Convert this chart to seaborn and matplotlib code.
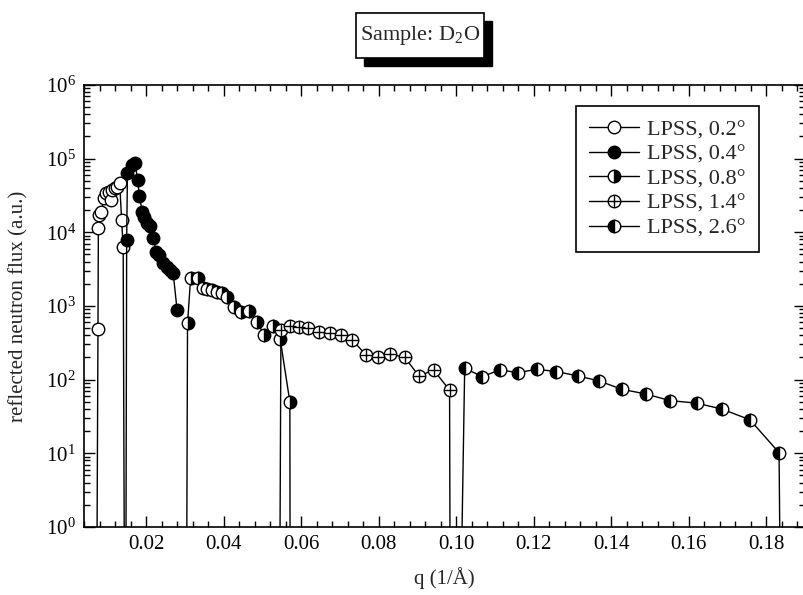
import numpy as np
import seaborn as sns
import matplotlib.pyplot as plt
from matplotlib.patches import Rectangle
from matplotlib.legend_handler import HandlerTuple
from matplotlib.ticker import MultipleLocator, FormatStrFormatter, LogLocator, NullFormatter

# q (1/A) and reflected flux for each incidence angle.
# the 0.01 entries are the drop-outs (zero counts) that pull the line to the bottom
q_02 = [0.0072, 0.0076, 0.0077, 0.0079, 0.0085, 0.0091, 0.0096, 0.0104, 0.0109,
        0.0113, 0.0120, 0.0126, 0.0132, 0.0137, 0.0141, 0.0145]
flux_02 = [0.01, 480, 11300, 17200, 19100, 29000, 34000, 35700, 27500,
           37500, 39600, 41700, 46000, 14700, 6300, 0.01]

q_04 = [0.01475, 0.0150, 0.0152, 0.0164, 0.0172, 0.0178, 0.0183, 0.0190, 0.0196,
        0.0203, 0.0210, 0.0219, 0.0226, 0.0234, 0.0245, 0.0254, 0.0262, 0.0270, 0.0280]
flux_04 = [0.01, 7900, 63000, 81000, 87000, 52000, 31000, 19000, 16300,
           13500, 12000, 8300, 5400, 4900, 3800, 3400, 3100, 2800, 890]

q_08 = [0.0304, 0.0307, 0.0315, 0.0333, 0.0346, 0.0358, 0.0371, 0.0384, 0.0396,
        0.0410, 0.0427, 0.0445, 0.0465, 0.0485, 0.0505, 0.0527, 0.0546, 0.0571, 0.0572]
flux_08 = [0.01, 580, 2380, 2380, 1740, 1690, 1660, 1560, 1480,
           1340, 980, 840, 860, 610, 410, 540, 357, 50, 0.01]

q_14 = [0.0544, 0.0548, 0.0571, 0.0595, 0.0619, 0.0645, 0.0675, 0.0703, 0.0732,
        0.0768, 0.0798, 0.0830, 0.0867, 0.0904, 0.0942, 0.0983, 0.0985]
flux_14 = [0.01, 472, 540, 525, 500, 447, 425, 405, 346,
           215, 205, 220, 202, 112, 135, 72, 0.01]

q_26 = [0.1009, 0.1022, 0.1067, 0.1112, 0.1160, 0.1208, 0.1258, 0.1315, 0.1369,
        0.1427, 0.1489, 0.1551, 0.1620, 0.1685, 0.1758, 0.1833, 0.1838]
flux_26 = [0.01, 143, 110, 135, 125, 138, 129, 112, 96,
           74, 64, 52, 48, 40, 28.5, 10.2, 0.01]

labels = ['LPSS, 0.2°', 'LPSS, 0.4°', 'LPSS, 0.8°', 'LPSS, 1.4°', 'LPSS, 2.6°']

sns.set_theme(style='ticks')
plt.rcParams['font.family'] = ['Liberation Serif', 'DejaVu Serif']
plt.rcParams['mathtext.fontset'] = 'custom'
plt.rcParams['mathtext.rm'] = 'Liberation Serif'
plt.rcParams['mathtext.it'] = 'Liberation Serif:italic'
plt.rcParams['mathtext.bf'] = 'Liberation Serif:bold'

fig = plt.figure(figsize=(8.04, 5.95), dpi=100)
ax = fig.add_axes([0.1045, 0.1143, 0.8968, 0.7429])
ax.set_yscale('log')

common = dict(ax=ax, color='black', linewidth=1, markersize=9,
              markeredgecolor='black', markeredgewidth=1,
              estimator=None, sort=False)

sns.lineplot(x=q_02, y=flux_02, marker='o', markerfacecolor='white', label=labels[0], **common)
sns.lineplot(x=q_04, y=flux_04, marker='o', markerfacecolor='black', label=labels[1], **common)
sns.lineplot(x=q_08, y=flux_08, marker='o', fillstyle='right', markerfacecolor='black',
             markerfacecoloralt='white', label=labels[2], **common)
sns.lineplot(x=q_14, y=flux_14, marker='o', markerfacecolor='white', label=labels[3], **common)
# cross inside the open circle -> circled plus
sns.lineplot(x=q_14, y=flux_14, marker='+', linestyle='none', **common)
sns.lineplot(x=q_26, y=flux_26, marker='o', fillstyle='left', markerfacecolor='black',
             markerfacecoloralt='white', label=labels[4], **common)

ax.set_xlim(0.004, 0.19)
ax.set_ylim(1, 1e6)
ax.xaxis.set_major_locator(MultipleLocator(0.02))
ax.xaxis.set_minor_locator(MultipleLocator(0.004))
ax.xaxis.set_major_formatter(FormatStrFormatter('%.2f'))
ax.set_yticks(10.0 ** np.arange(0, 7))
ax.yaxis.set_minor_locator(LogLocator(base=10, subs=np.arange(2, 10), numticks=30))
ax.yaxis.set_minor_formatter(NullFormatter())

ax.tick_params(which='both', direction='in', top=True, right=True, colors='black',
               width=1, labelsize=15, pad=6)
ax.tick_params(which='major', length=8)
ax.tick_params(which='minor', length=4.5)
for s in ax.spines.values():
    s.set_color('black')
    s.set_linewidth(1.2)

ax.set_xlabel('q (1/Å)', fontsize=15, labelpad=9)
ax.set_ylabel('reflected neutron flux (a.u.)', fontsize=15, labelpad=12)

lines = ax.get_lines()
handles = [lines[0], lines[1], lines[2], (lines[3], lines[4]), lines[5]]
leg = ax.legend(handles, labels, loc='upper right', bbox_to_anchor=(0.936, 0.952),
                borderaxespad=0, fontsize=16, frameon=True, fancybox=False,
                edgecolor='black', framealpha=1, handlelength=2.25,
                handletextpad=0.35, labelspacing=0.18, borderpad=0.6,
                handler_map={tuple: HandlerTuple(ndivide=1)})
leg.get_frame().set_linewidth(1.2)

# title box with a drop shadow
fig.add_artist(Rectangle((0.4528, 0.8891), 0.1592, 0.0756, transform=fig.transFigure,
                         facecolor='black', edgecolor='black'))
fig.add_artist(Rectangle((0.4428, 0.9025), 0.1592, 0.0756, transform=fig.transFigure,
                         facecolor='white', edgecolor='black', linewidth=1.2))
fig.text(0.5224, 0.9395, r'Sample: D$_\mathregular{2}$O', fontsize=16,
         ha='center', va='center')

fig.savefig('out.png', dpi=100)
